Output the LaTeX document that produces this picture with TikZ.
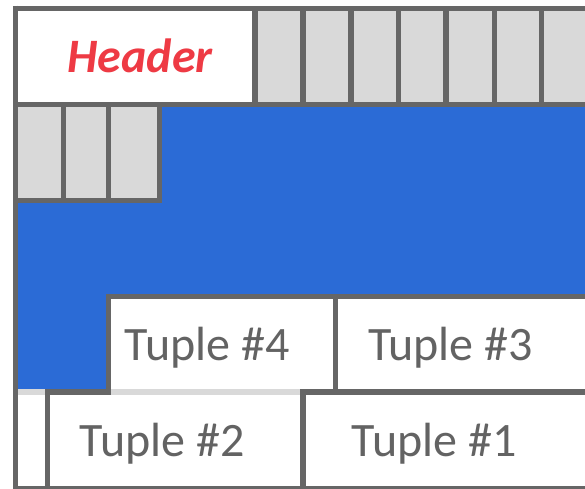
\documentclass[tikz,border=0pt]{standalone}
\usepackage{fontspec}
\newfontfamily\carlito{Carlito}
\definecolor{gridline}{HTML}{666666}
\definecolor{cellgray}{HTML}{D9D9D9}
\definecolor{pageblue}{HTML}{2B6BD6}
\definecolor{headred}{HTML}{EE3A44}
\definecolor{tupletext}{HTML}{636363}
\tikzset{
  cellbox/.style={draw=gridline, line width=5.5pt, fill=cellgray},
  whitebox/.style={draw=gridline, line width=5.5pt, fill=white},
  gridrule/.style={draw=gridline, line width=5.5pt},
  softrule/.style={draw=cellgray, line width=5.5pt},
  tuplelabel/.style={anchor=base, inner sep=0pt, text=tupletext, font=\carlito\fontsize{48}{58}\selectfont},
  headlabel/.style={anchor=base, inner sep=0pt, text=headred, font=\carlito\bfseries\itshape\fontsize{48}{58}\selectfont}
}
\begin{document}
\begin{tikzpicture}[x=1pt,y=-1pt]
\useasboundingbox (0,0) rectangle (585,488);
\clip (0,0) rectangle (585,488);
% free space (blue)
\fill[pageblue] (15.5,104.5) rectangle (590,392);
% header
\path[whitebox] (15.5,8.3) rectangle (255,104.5);
\node[headlabel] (header) at (140,72.7) {Header};
% top row slots
\foreach \a/\b in {255/303,303/351,351/398.5,398.5/446,446/494.5,494.5/541.5,541.5/589}
  \path[cellbox] (\a,8.3) rectangle (\b,104.5);
% second row slots
\foreach \a/\b in {15.5/63.5,63.5/108.5,108.5/159.5}
  \path[cellbox] (\a,104.5) rectangle (\b,200.3);
% tuples
\path[whitebox] (47.5,392) rectangle (303,490);
\path[whitebox] (303,392) rectangle (600,490);
\path[whitebox] (108.5,296.5) rectangle (335.5,392);
\path[whitebox] (335.5,296.5) rectangle (600,392);
\fill[white] (18.25,394.75) rectangle (44.75,485.5);
% soft separators
\path[softrule] (18.25,392) -- (44.75,392);
\path[softrule] (111.25,392) -- (300.25,392);
% redraw tuple #1 left edge and tuple #4 left edge over soft line
\path[gridrule] (303,389.25) -- (303,490);
\path[gridrule] (108.5,296.5) -- (108.5,394.75);
% outer page edges
\path[gridrule] (15.5,5.55) -- (15.5,490);
\path[gridrule] (12.75,8.3) -- (590,8.3);
\path[gridrule] (12.75,488.5) -- (590,488.5);
% labels
\node[tuplelabel] (t4) at (207.3,360) {Tuple \#4};
\node[tuplelabel] (t3) at (450.5,360) {Tuple \#3};
\node[tuplelabel] (t2) at (162.3,456.7) {Tuple \#2};
\node[tuplelabel] (t1) at (434.2,456.7) {Tuple \#1};
\end{tikzpicture}
\end{document}
